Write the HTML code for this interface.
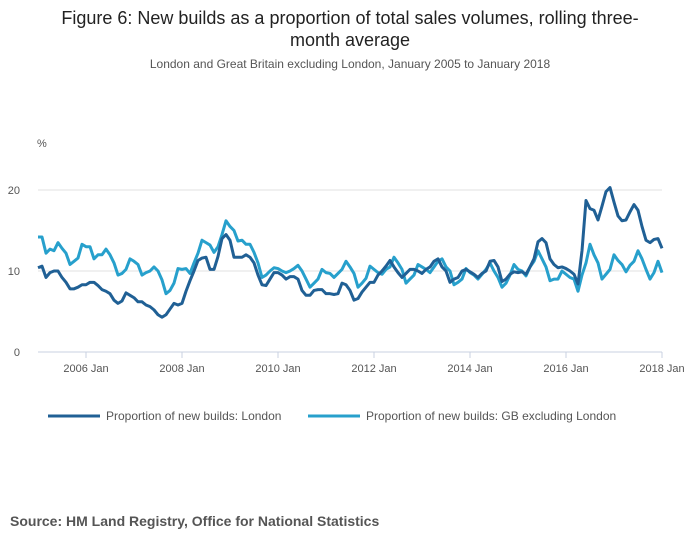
<!DOCTYPE html>
<html><head><meta charset="utf-8"><style>
body{margin:0;background:#fff;font-family:"Liberation Sans",sans-serif;}
#wrap{position:relative;width:700px;height:549px;overflow:hidden}
.t{position:absolute;left:0;width:700px;text-align:center;color:#222;font-size:18px;line-height:22px}
</style></head><body>
<div id="wrap">
<div class="t" style="top:7px">Figure 6: New builds as a proportion of total sales volumes, rolling three-<br>month average</div>
<div style="position:absolute;top:57px;left:0;width:700px;text-align:center;font-size:12px;color:#555">London and Great Britain excluding London, January 2005 to January 2018</div>
<svg id="c" width="700" height="549" style="position:absolute;left:0;top:0"></svg>
<div style="position:absolute;top:513px;left:10px;font-size:14px;font-weight:bold;color:#555">Source: HM Land Registry, Office for National Statistics</div>
</div>
<script>
const tickYears=[2006,2008,2010,2012,2014,2016,2018];
const yTicks=[0,10,20];
const london=[10.4,10.6,9.2,9.8,10.0,10.0,9.2,8.6,7.8,7.8,8.0,8.3,
8.3,8.6,8.6,8.2,7.7,7.5,7.2,6.4,6.0,6.3,7.3,7.0,
6.7,6.2,6.2,5.8,5.6,5.2,4.6,4.3,4.6,5.3,6.0,5.8,
6.0,7.5,8.8,10.0,11.3,11.6,11.7,10.2,10.2,11.8,14.0,14.5,
13.8,11.7,11.7,11.7,12.0,11.7,11.0,9.5,8.3,8.2,9.0,9.8,
9.8,9.5,9.0,9.3,9.3,9.0,7.6,7.0,7.0,7.6,7.7,7.7,
7.2,7.2,7.1,7.2,8.5,8.3,7.6,6.4,6.6,7.4,8.0,8.6,
8.6,9.5,10.0,10.6,11.3,10.5,9.8,9.2,9.7,10.2,10.2,10.0,
9.7,10.2,10.5,11.2,11.5,10.5,10.0,8.6,9.0,9.2,10.0,10.2,
9.9,9.6,9.2,9.7,10.0,11.2,11.3,10.5,8.7,9.0,9.6,9.9,
9.8,9.9,9.6,10.5,11.5,13.6,14.0,13.5,11.5,10.8,10.4,10.5,
10.3,10.0,9.6,8.4,12.5,18.7,17.7,17.5,16.3,18.0,19.8,20.3,
18.5,16.8,16.2,16.3,17.3,18.2,17.5,15.5,13.8,13.5,13.9,14.0,
12.8];
const gb=[14.2,14.2,12.2,12.7,12.5,13.5,12.8,12.2,10.8,11.2,11.6,13.3,
13.0,13.0,11.5,12.0,12.0,12.7,12.0,11.0,9.5,9.7,10.2,11.5,
11.2,10.8,9.5,9.8,10.0,10.5,10.0,8.9,7.2,7.6,8.5,10.3,
10.2,10.3,9.7,11.0,12.2,13.8,13.5,13.2,12.3,13.0,14.5,16.2,
15.5,15.0,13.7,13.8,13.3,13.3,12.3,11.0,9.2,9.5,10.0,10.4,
10.3,10.0,9.8,10.0,10.3,10.7,10.0,9.0,8.0,8.5,9.0,10.2,
9.8,9.7,9.2,9.7,10.2,11.2,10.5,9.7,8.0,8.5,9.1,10.6,
10.2,9.8,9.6,10.2,10.5,11.7,11.0,10.2,8.5,9.0,9.5,10.8,
10.5,10.2,9.8,10.5,11.2,11.5,10.5,10.0,8.3,8.6,9.0,10.3,
9.8,9.5,9.0,9.6,10.2,11.0,10.0,9.2,8.0,8.5,9.5,10.8,
10.2,10.0,9.4,10.5,11.2,12.5,11.5,10.5,8.8,9.0,9.0,10.0,
9.6,9.2,9.0,7.5,9.5,11.0,13.3,12.0,11.0,9.0,9.6,10.2,
12.0,11.3,10.8,9.9,10.7,11.2,12.5,11.5,10.2,9.0,9.8,11.2,
9.8];
const NS="http://www.w3.org/2000/svg",svg=document.getElementById('c');
const x0=38,x1=662,n=156;
const xm=i=>x0+(x1-x0)*i/n;
const yv=v=>352-v*8.1;
function mk(t,a,p){const e=document.createElementNS(NS,t);for(const k in a)e.setAttribute(k,a[k]);(p||svg).appendChild(e);return e;}
yTicks.forEach(v=>{
 const l=mk('line',{x1:x0,x2:x1,y1:yv(v),y2:yv(v),stroke:v===0?'#c8d0e0':'#e2e2e2','stroke-width':1});
 
 
 const t=mk('text',{x:20,y:yv(v)+4,'font-size':11,fill:'#555','text-anchor':'end'});t.textContent=v;
 
 
});
const u=mk('text',{x:37,y:147,'font-size':11,fill:'#555'});u.textContent='%';


tickYears.forEach(y=>{
 const px=xm((y-2005)*12);
 const tk=mk('line',{x1:px,x2:px,y1:352,y2:358,stroke:'#c8d0e0'});
 
 
 const t=mk('text',{x:px,y:372,'font-size':11,fill:'#555','text-anchor':'middle'});t.textContent=y+' Jan';
 
 
});
function line(d,c,name){
 const p=mk('polyline',{points:d.map((v,i)=>xm(i)+','+yv(v)).join(' '),fill:'none',stroke:c,'stroke-width':3,'stroke-linejoin':'round'});
 
 
}
line(gb,'#27a0cc','series-gb-excl-london');
line(london,'#206095','series-london');
[[48,'#206095','Proportion of new builds: London','legend-london'],[308,'#27a0cc','Proportion of new builds: GB excluding London','legend-gb']].forEach(a=>{
 const g=mk('g',{});
 
 
 mk('line',{x1:a[0],x2:a[0]+52,y1:416,y2:416,stroke:a[1],'stroke-width':3},g);
 const t=mk('text',{x:a[0]+58,y:420,'font-size':12,fill:'#555'},g);t.textContent=a[2];
});
</script>
</body></html>
